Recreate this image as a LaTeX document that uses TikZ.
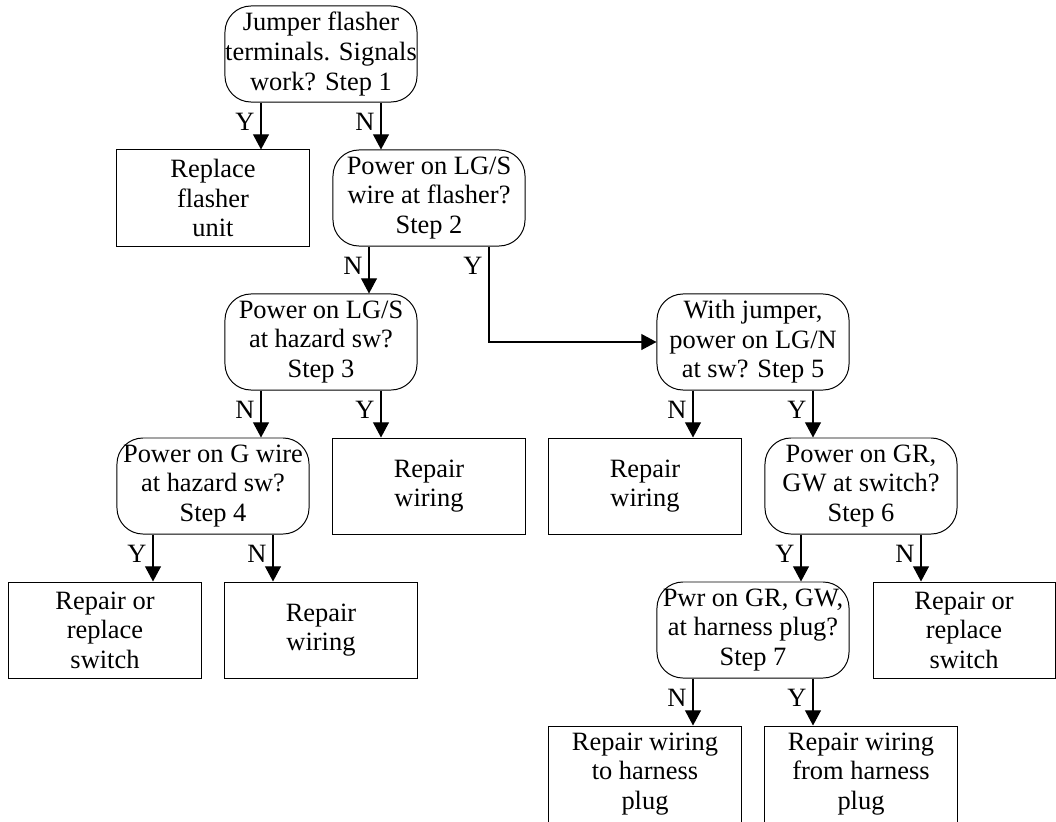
\documentclass[tikz,border=0pt]{standalone}
\usepackage{fontspec}
\setmainfont{Liberation Serif}
\usetikzlibrary{arrows.meta}

\begin{document}
\begin{tikzpicture}[x=0.025cm, y=-0.025cm,
    every node/.style={font=\fontsize{18.8}{21}\selectfont},
    ask/.style={draw, line width=0.7pt, rounded corners=0.65cm, align=center,
        minimum width=4.8cm, minimum height=2.4cm, inner sep=0pt},
    fix/.style={draw, line width=0.7pt, align=center,
        minimum width=4.8cm, minimum height=2.4cm, inner sep=0pt},
    arr/.style={-{Triangle[width=0.4cm, length=0.38cm]}, line width=0.8pt},
    lbl/.style={anchor=north east, inner sep=0pt, xshift=-0.15cm, yshift=-0.25cm}]
    \useasboundingbox (0, 0) rectangle (1056, 821);

    % questions
    \node[ask] (s1) at (321, 54) {Jumper flasher\\terminals. Signals\\work? Step 1};
    \node[ask] (s2) at (429, 198) {Power on LG/S\\wire at flasher?\\Step 2};
    \node[ask] (s3) at (321, 342) {Power on LG/S\\at hazard sw?\\Step 3};
    \node[ask] (s4) at (213, 486) {Power on G wire\\at hazard sw?\\Step 4};
    \node[ask] (s5) at (753, 342) {With jumper,\\power on LG/N\\at sw? Step 5};
    \node[ask] (s6) at (861, 486) {Power on GR,\\GW at switch?\\Step 6};
    \node[ask] (s7) at (753, 630) {Pwr on GR, GW,\\at harness plug?\\Step 7};

    % repairs
    \node[fix] (flash) at (213, 198) {Replace\\flasher\\unit};
    \node[fix] (wire3) at (429, 486) {Repair\\wiring};
    \node[fix] (wire5) at (645, 486) {Repair\\wiring};
    \node[fix] (swL) at (105, 630) {Repair or\\replace\\switch};
    \node[fix] (wire4) at (321, 630) {Repair\\wiring};
    \node[fix, minimum width=4.55cm] (swR) at (964, 630) {Repair or\\replace\\switch};
    \node[fix] (plugA) at (645, 774) {Repair wiring\\to harness\\plug};
    \node[fix] (plugB) at (861, 774) {Repair wiring\\from harness\\plug};

    \foreach \a/\b/\dx/\t in {s1/flash/-60/Y, s1/s2/60/N, s2/s3/-60/N,
        s3/s4/-60/N, s3/wire3/60/Y, s5/wire5/-60/N, s5/s6/60/Y,
        s4/swL/-60/Y, s4/wire4/60/N, s6/s7/-60/Y, s6/swR/60/N,
        s7/plugA/-60/N, s7/plugB/60/Y}
    {
        \coordinate (p) at ([xshift=\dx*0.025cm]\a.south);
        \draw[arr] (p) -- (p |- \b.north) node[lbl, pos=0] {\t};
    }

    \coordinate (q) at ([xshift=1.5cm]s2.south);
    \draw[arr] (q) |- (s5.west) node[lbl, pos=0] {Y};
\end{tikzpicture}
\end{document}
